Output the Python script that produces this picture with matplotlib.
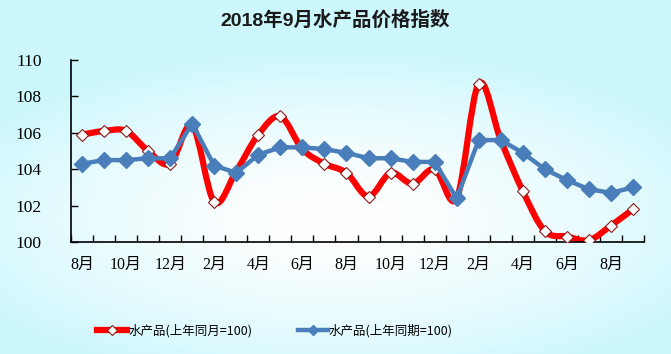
import numpy as np
import matplotlib
matplotlib.use('Agg')
import matplotlib.pyplot as plt
from matplotlib.path import Path
from matplotlib.patches import PathPatch
from matplotlib.lines import Line2D

# 2016年8月 - 2018年9月
months = ['8月', '9月', '10月', '11月', '12月', '1月', '2月', '3月', '4月', '5月', '6月', '7月',
          '8月', '9月', '10月', '11月', '12月', '1月', '2月', '3月', '4月', '5月', '6月', '7月',
          '8月', '9月']
same_month = [105.9, 106.1, 106.1, 105.0, 104.3, 106.4, 102.2, 103.9, 105.9, 106.9, 105.1, 104.3,
              103.8, 102.5, 103.8, 103.2, 104.0, 102.4, 108.7, 105.6, 102.8, 100.6, 100.3, 100.1,
              100.9, 101.8]
same_period = [104.3, 104.5, 104.5, 104.6, 104.6, 106.5, 104.2, 103.8, 104.8, 105.2, 105.2, 105.1,
               104.9, 104.6, 104.6, 104.4, 104.4, 102.4, 105.6, 105.6, 104.9, 104.0, 103.4, 102.9,
               102.7, 103.0]
yticks = [100, 102, 104, 106, 108, 110]

cjk = ['Liberation Sans', 'Noto Sans CJK SC']
serif_cjk = ['Liberation Serif', 'Noto Sans CJK SC']

RED = '#ff0000'
BLUE = '#4a7ebb'

fig = plt.figure(figsize=(6.71, 3.54), dpi=100)

# background: white centre fading to light cyan at edges
bg = fig.add_axes([0, 0, 1, 1])
gx, gy = np.meshgrid(np.linspace(0, 1, 300), np.linspace(0, 1, 160))
r = np.sqrt(((gx - 0.5) / 0.62) ** 2 + ((gy - 0.62) / 0.48) ** 2)
t = np.clip(r, 0, 1) ** 1.6
cyan = np.array([0.80, 0.97, 0.99])
img = (1 - t)[..., None] * np.ones(3) + t[..., None] * cyan
bg.imshow(img, aspect='auto', extent=[0, 1, 0, 1])
bg.axis('off')

ax = fig.add_axes([71 / 671, 1 - 242 / 354, (644 - 71) / 671, (242 - 60) / 354])
ax.patch.set_alpha(0)

x = np.arange(len(months))

# smoothed red line (bezier through the points, as in the source chart)
y = np.array(same_month)
verts = [(x[0], y[0])]
codes = [Path.MOVETO]
for i in range(len(x) - 1):
    p0 = (x[max(i - 1, 0)], y[max(i - 1, 0)])
    p1 = (x[i], y[i])
    p2 = (x[i + 1], y[i + 1])
    p3 = (x[min(i + 2, len(x) - 1)], y[min(i + 2, len(x) - 1)])
    c1 = (p1[0] + (p2[0] - p0[0]) / 6, p1[1] + (p2[1] - p0[1]) / 6)
    c2 = (p2[0] - (p3[0] - p1[0]) / 6, p2[1] - (p3[1] - p1[1]) / 6)
    verts += [c1, c2, p2]
    codes += [Path.CURVE4] * 3
ax.add_patch(PathPatch(Path(verts, codes), fill=False, edgecolor=RED, lw=4.5,
                       capstyle='round', joinstyle='round', zorder=2))
ax.plot(x, same_month, ls='none', marker='D', ms=6.5, mfc='white', mec='#8b1a1a',
        mew=0.8, zorder=3)

ax.plot(x, same_period, color=BLUE, lw=3.2, marker='D', ms=8.5, mfc=BLUE, mec=BLUE,
        zorder=4)

ax.set_xlim(-0.5, len(months) - 0.5)
ax.set_ylim(100, 110)
ax.set_yticks(yticks)
ax.set_yticklabels([str(v) for v in yticks], family=serif_cjk, fontsize=12.5)
ax.set_xticks(x[::2])
ax.set_xticklabels(months[::2], family=serif_cjk, fontsize=11.5)
ax.set_xticks(np.arange(-0.5, len(months), 1), minor=True)
ax.tick_params(axis='x', which='major', length=0, pad=11)
ax.tick_params(axis='x', which='minor', direction='in', length=5, width=1)
ax.tick_params(axis='y', direction='in', length=5, width=1, pad=21)
for s in ['top', 'right']:
    ax.spines[s].set_visible(False)
for s in ['left', 'bottom']:
    ax.spines[s].set_linewidth(1.2)

fig.text(0.5, 1 - 20 / 354, '2018年9月水产品价格指数', ha='center', va='center',
         family=cjk, fontsize=14, fontweight='bold', color='#1a1a1a')

handles = [
    Line2D([], [], color=RED, lw=4.5, marker='D', ms=5, mfc='white', mec='#8b1a1a', mew=0.8),
    Line2D([], [], color=BLUE, lw=3.2, marker='D', ms=5, mfc=BLUE, mec=BLUE),
]
fig.legend(handles, ['水产品(上年同月=100)', '水产品(上年同期=100)'], ncol=2,
           loc='center', bbox_to_anchor=(0.41, 1 - 331 / 354), frameon=False,
           prop={'family': ['Noto Sans CJK SC'], 'size': 9}, handlelength=2.4,
           handletextpad=0.1, columnspacing=3.6)

fig.savefig('out.png', dpi=100)
